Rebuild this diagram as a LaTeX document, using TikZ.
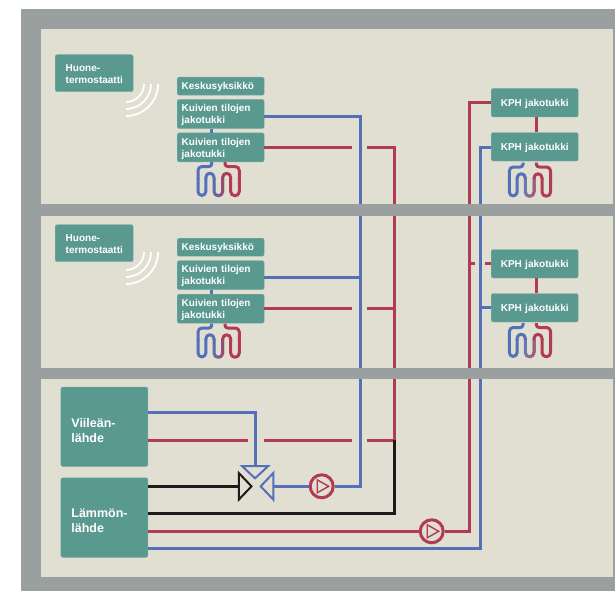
\documentclass[tikz,border=0pt]{standalone}
\usepackage{fontspec}
\setmainfont{Liberation Sans}
\usetikzlibrary{calc}
\definecolor{wallgray}{HTML}{9A9FA0}
\definecolor{roomfill}{HTML}{E0DFD2}
\definecolor{teal}{HTML}{5A9990}
\definecolor{pipeblue}{HTML}{5470B8}
\definecolor{pipered}{HTML}{B23A54}
\definecolor{pipeblack}{HTML}{1E1A1C}
\newcommand{\tl}{\rule{0pt}{9.5pt}}
\tikzset{
  tbox/.style={fill=teal,draw=teal!80!white,line width=0.4pt,rounded corners=2pt,text=white,align=left,anchor=north west,
    font=\fontsize{10}{12}\selectfont\bfseries,inner ysep=0pt,inner xsep=4.5pt,minimum width=87pt,text width=78pt},
  thermo/.style={tbox,minimum width=78pt,inner xsep=8.5pt,text width=61pt,minimum height=37pt},
  kph/.style={tbox,minimum height=28.5pt,align=center},
  kui/.style={tbox,minimum height=29pt},
  kes/.style={tbox,minimum height=18pt},
  source/.style={tbox,minimum width=87pt,inner xsep=10.5pt,text width=66pt,minimum height=79.5pt,
    font=\fontsize{12.5}{14.8}\selectfont\bfseries},
  pipe/.style={line width=3pt,line join=miter},
  blue pipe/.style={pipe,draw=pipeblue},
  red pipe/.style={pipe,draw=pipered},
  black pipe/.style={pipe,draw=pipeblack},
  coilline/.style={line width=3pt,line cap=butt,line join=round},
  wave/.style={draw=white,line width=1.8pt},
  pump/.style={circle,draw=pipered,fill=roomfill,line width=3pt,minimum size=23pt,inner sep=0pt},
  valve/.style={line width=2pt,fill=roomfill,line join=miter}
}
\newcommand{\coilpath}{(211.7,162) -- (211.7,164) to[out=-90,in=0] (209,166.5) -- (202,166.5)
  to[out=180,in=90] (198,170.5) -- (198,191.5) arc[start angle=180,end angle=0,radius=3.9]
  -- (205.8,177.3) arc[start angle=180,end angle=360,radius=4.1] -- (214,191.5)
  arc[start angle=180,end angle=0,radius=4.35] -- (222.7,177.3)
  arc[start angle=180,end angle=360,radius=4] -- (230.7,191.5)
  arc[start angle=180,end angle=0,radius=4.3] -- (239.3,170.5)
  to[out=90,in=0] (235.3,166.5) -- (228,166.5) to[out=180,in=-90] (225,164) -- (225,162)}
\newcommand{\coil}[2]{%
  \begin{scope}[shift={(#1,#2)}]
    \begin{scope}\clip (190,155) rectangle (218,178); \draw[coilline,pipeblue] \coilpath; \end{scope}
    \begin{scope}\clip (218,155) rectangle (245,178); \draw[coilline,pipered] \coilpath; \end{scope}
    \begin{scope}\clip (190,178) rectangle (212.2,202); \draw[coilline,pipeblue] \coilpath; \end{scope}
    \begin{scope}\clip (227.8,178) rectangle (245,202); \draw[coilline,pipered] \coilpath; \end{scope}
    \foreach \k in {0,...,15}{%
      \pgfmathtruncatemacro{\mixv}{100-\k*100/15}
      \begin{scope}\clip (212+\k,178) rectangle (213.2+\k,202);
        \draw[coilline,pipeblue!\mixv!pipered] \coilpath; \end{scope}
    }
  \end{scope}}
\newcommand{\waves}[2]{%
  \foreach \r in {18,25,32}{\draw[wave] (#1+\r,#2) arc[start angle=0,end angle=90,radius=\r];}}
\newcommand{\pumpmark}[1]{\draw[pipered,line width=1.4pt,line join=miter] ($(#1)+(-4.5,-6.5)$) -- ($(#1)+(7,0)$) -- ($(#1)+(-4.5,6.5)$) -- cycle;}
\begin{document}
\begin{tikzpicture}[x=1pt,y=-1pt]
\useasboundingbox (0,0) rectangle (615,591);
\fill[wallgray] (20.5,9) rectangle (615,591);
\fill[roomfill] (41,29) rectangle (612.8,577);

% boxes
\node[thermo] (th1) at (55,54.5) {\tl\hspace*{2pt}Huone-\\\hspace*{2pt}termostaatti};
\node[kes] (ks1) at (177,77) {\tl Keskusyksikkö};
\node[kui] (ku1a) at (177,99.3) {\tl Kuivien tilojen\\jakotukki};
\node[kui] (ku1b) at (177,132.7) {\tl Kuivien tilojen\\jakotukki};
\node[kph] (kp1a) at (491,88.3) {\tl KPH jakotukki};
\node[kph] (kp1b) at (491,132.3) {\tl KPH jakotukki};

\node[thermo] (th2) at (55,224.5) {\tl\hspace*{2pt}Huone-\\\hspace*{2pt}termostaatti};
\node[kes] (ks2) at (177,238) {\tl Keskusyksikkö};
\node[kui] (ku2a) at (177,260.5) {\tl Kuivien tilojen\\jakotukki};
\node[kui] (ku2b) at (177,294) {\tl Kuivien tilojen\\jakotukki};
\node[kph] (kp2a) at (491,249.3) {\tl KPH jakotukki};
\node[kph] (kp2b) at (491,293.3) {\tl KPH jakotukki};

\node[source] (cool) at (60.7,386.8) {\rule{0pt}{17pt}Viileän-\\lähde};
\node[source] (heat) at (60.7,477.6) {\rule{0pt}{15.5pt}Lämmön-\\lähde};

% valve ports and pumps
\coordinate (vt) at (255,466);
\coordinate (vl) at (238.8,486.3);
\coordinate (vr) at (273.3,486.3);
\coordinate (jb) at (360,486.3);
\coordinate (jk) at (394,513.7);
\node[pump] (p1) at (321.7,486.3) {};
\node[pump] (p2) at (431.7,531.3) {};

% pipes
\draw[blue pipe] (ku1a.east |- 0,116.6) -- (360,116.6) -- (jb) -- (p1);
\draw[blue pipe] (ku2a.east |- 0,277.9) -- (360,277.9);
\draw[blue pipe] (p1) -- (vr);
\draw[red pipe] (ku1b.east |- 0,147.2) -- (352,147.2);
\draw[red pipe] (367,147.2) -- (394,147.2) -- (394,441.2);
\draw[red pipe] (ku2b.east |- 0,308.6) -- (352,308.6);
\draw[red pipe] (367,308.6) -- (394,308.6);
\draw[red pipe] (cool.east |- 0,440) -- (247.5,440);
\draw[red pipe] (264,440) -- (352,440);
\draw[red pipe] (367,440) -- (394,440);
\draw[blue pipe] (cool.east |- 0,412) -- (255,412) -- (vt);
\draw[black pipe] (heat.east |- 0,486.3) -- (vl);
\draw[black pipe] (heat.east |- 0,513.7) -- (jk) -- (394,440);
\draw[red pipe] (heat.east |- 0,531.3) -- (p2);
\draw[red pipe] (p2) -- (469,531.3) -- (469,102.4) -- (kp1a.west |- 0,102.4);
\draw[blue pipe] (heat.east |- 0,548.7) -- (480,548.7) -- (480,147) -- (kp1b.west |- 0,147);
\draw[red pipe] (469,263.5) -- (475,263.5);
\draw[red pipe] (485,263.5) -- (kp2a.west |- 0,263.5);
\draw[blue pipe] (480,307.6) -- (kp2b.west |- 0,307.6);
\draw[blue pipe] (ku1a.south -| 211.7,0) -- (ku1b.north -| 211.7,0);
\draw[blue pipe] (ku2a.south -| 211.7,0) -- (ku2b.north -| 211.7,0);
\draw[red pipe] (kp1a.south -| 536,0) -- (kp1b.north -| 536,0);
\draw[red pipe] (kp2a.south -| 536,0) -- (kp2b.north -| 536,0);

% floors
\fill[wallgray] (41,204.3) rectangle (615,215.5);
\fill[wallgray] (41,368.3) rectangle (615,379);

\pumpmark{p1}
\pumpmark{p2}

% valve triangles
\draw[valve,draw=pipeblue] (vt -| 242,0) -- (268.3,466) -- (255,478.3) -- cycle;
\draw[valve,draw=pipeblack] (238.8,473) -- (251.5,486.3) -- (238.8,499.6) -- cycle;
\draw[valve,draw=pipeblue] (273.3,473) -- (260.7,486.3) -- (273.3,499.6) -- cycle;

% coils
\coil{0}{0}
\coil{0}{161.5}
\coil{311.3}{0.5}
\coil{311.3}{161}

% waves
\waves{126}{84}
\waves{126}{252}
\end{tikzpicture}
\end{document}
